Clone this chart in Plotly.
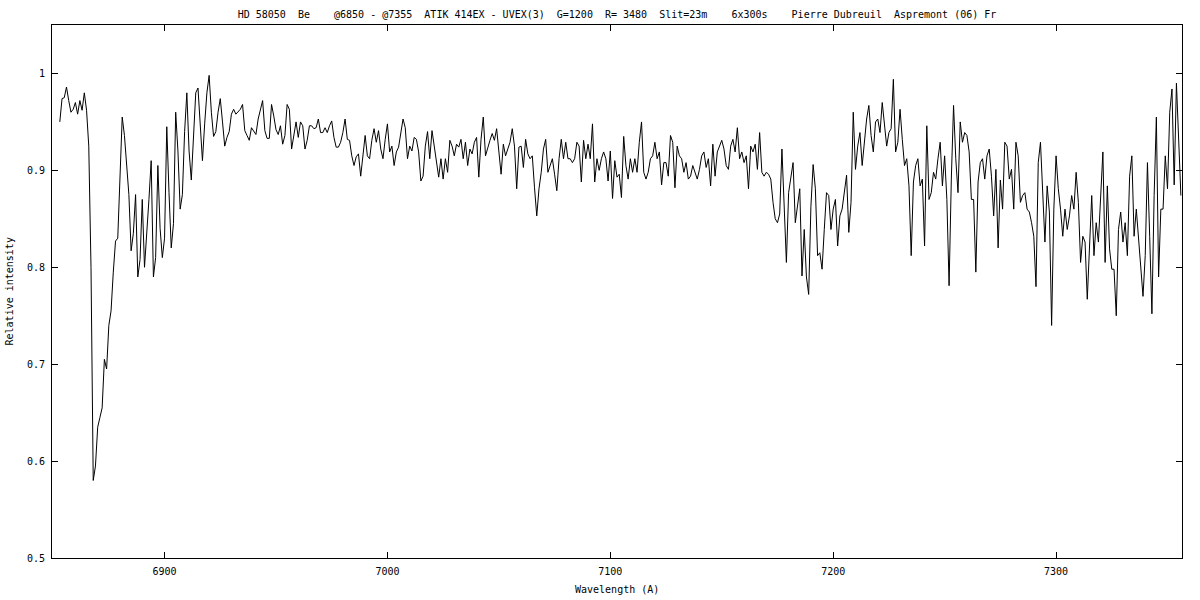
import plotly.graph_objects as go

# Spectrum HD 58050 (Be star), relative intensity sampled every 1 Angstrom
step_angstrom = 1.0

flux_6853 = [0.950, 0.974, 0.975, 0.986, 0.972, 0.960, 0.963,
             0.970, 0.958, 0.972, 0.962, 0.980, 0.962, 0.925, 0.800, 0.580, 0.595,
             0.635, 0.645, 0.655, 0.705, 0.695, 0.740, 0.755, 0.795, 0.827, 0.830,
             0.890, 0.955, 0.936, 0.900, 0.875, 0.817, 0.835, 0.875, 0.790, 0.808,
             0.870, 0.800, 0.830, 0.870, 0.910, 0.790, 0.810, 0.905, 0.840, 0.810]

flux_6900 = [0.830, 0.945, 0.877, 0.820, 0.845, 0.960, 0.920, 0.860, 0.875, 0.940,
             0.980, 0.920, 0.890, 0.935, 0.980, 0.985, 0.940, 0.910, 0.948, 0.980,
             0.998, 0.960, 0.935, 0.940, 0.960, 0.974, 0.950, 0.925, 0.934, 0.940,
             0.958, 0.963, 0.958, 0.960, 0.963, 0.968, 0.941, 0.936, 0.931, 0.944,
             0.941, 0.937, 0.953, 0.963, 0.972, 0.941, 0.933, 0.933, 0.968, 0.956,
             0.942, 0.937, 0.946, 0.927, 0.936, 0.968, 0.963, 0.922, 0.936, 0.950,
             0.934, 0.950, 0.946, 0.922, 0.931, 0.946, 0.946, 0.943, 0.944, 0.953,
             0.939, 0.939, 0.944, 0.939, 0.946, 0.951, 0.934, 0.924, 0.924, 0.929,
             0.939, 0.953, 0.932, 0.931, 0.915, 0.905, 0.914, 0.917, 0.894, 0.917,
             0.936, 0.915, 0.912, 0.931, 0.943, 0.929, 0.941, 0.922, 0.912, 0.932]

flux_7000 = [0.948, 0.919, 0.925, 0.905, 0.919, 0.924, 0.939, 0.953, 0.944, 0.912,
             0.925, 0.920, 0.934, 0.932, 0.919, 0.889, 0.894, 0.925, 0.940, 0.912,
             0.941, 0.925, 0.908, 0.893, 0.912, 0.891, 0.912, 0.898, 0.931, 0.925,
             0.915, 0.927, 0.924, 0.932, 0.912, 0.929, 0.905, 0.922, 0.917, 0.929,
             0.934, 0.893, 0.932, 0.955, 0.915, 0.924, 0.931, 0.938, 0.931, 0.943,
             0.922, 0.896, 0.927, 0.915, 0.922, 0.929, 0.943, 0.925, 0.881, 0.924,
             0.925, 0.903, 0.932, 0.917, 0.912, 0.915, 0.882, 0.853, 0.881, 0.898,
             0.922, 0.932, 0.898, 0.905, 0.912, 0.896, 0.879, 0.912, 0.932, 0.912,
             0.929, 0.912, 0.912, 0.908, 0.912, 0.929, 0.925, 0.888, 0.931, 0.912,
             0.927, 0.912, 0.948, 0.888, 0.912, 0.900, 0.912, 0.919, 0.912, 0.889]

flux_7100 = [0.920, 0.871, 0.910, 0.893, 0.896, 0.872, 0.935, 0.905, 0.891, 0.912,
             0.898, 0.912, 0.898, 0.929, 0.950, 0.898, 0.891, 0.898, 0.912, 0.915,
             0.929, 0.912, 0.919, 0.885, 0.908, 0.908, 0.894, 0.936, 0.929, 0.882,
             0.925, 0.915, 0.912, 0.898, 0.908, 0.891, 0.894, 0.905, 0.898, 0.891,
             0.901, 0.915, 0.919, 0.903, 0.912, 0.884, 0.927, 0.894, 0.919, 0.925,
             0.931, 0.922, 0.905, 0.901, 0.925, 0.932, 0.919, 0.944, 0.912, 0.919,
             0.908, 0.915, 0.881, 0.925, 0.919, 0.927, 0.901, 0.939, 0.898, 0.894,
             0.898, 0.896, 0.891, 0.867, 0.850, 0.846, 0.855, 0.922, 0.870, 0.805,
             0.877, 0.894, 0.908, 0.846, 0.863, 0.881, 0.791, 0.839, 0.790, 0.772,
             0.863, 0.906, 0.881, 0.812, 0.815, 0.798, 0.839, 0.877, 0.874, 0.839]

flux_7200 = [0.860, 0.870, 0.822, 0.853, 0.860, 0.881, 0.895, 0.836, 0.867, 0.960,
             0.901, 0.925, 0.939, 0.905, 0.932, 0.953, 0.967, 0.936, 0.919, 0.950,
             0.953, 0.939, 0.970, 0.944, 0.925, 0.939, 0.943, 0.994, 0.919, 0.929,
             0.963, 0.932, 0.905, 0.912, 0.884, 0.812, 0.888, 0.905, 0.912, 0.884,
             0.891, 0.822, 0.946, 0.870, 0.877, 0.898, 0.891, 0.912, 0.929, 0.884,
             0.915, 0.870, 0.781, 0.891, 0.967, 0.912, 0.877, 0.950, 0.929, 0.939,
             0.936, 0.919, 0.870, 0.870, 0.795, 0.888, 0.908, 0.912, 0.891, 0.915,
             0.922, 0.894, 0.853, 0.901, 0.820, 0.890, 0.860, 0.929, 0.925, 0.891,
             0.901, 0.860, 0.929, 0.915, 0.867, 0.874, 0.877, 0.860, 0.857, 0.846,
             0.832, 0.780, 0.908, 0.929, 0.874, 0.826, 0.884, 0.857, 0.740, 0.860]

flux_7300 = [0.915, 0.881, 0.860, 0.832, 0.860, 0.839, 0.853, 0.874, 0.860, 0.898,
             0.867, 0.805, 0.832, 0.826, 0.767, 0.826, 0.874, 0.812, 0.846, 0.826,
             0.874, 0.919, 0.805, 0.884, 0.819, 0.798, 0.798, 0.750, 0.839, 0.857,
             0.826, 0.846, 0.812, 0.894, 0.915, 0.832, 0.860, 0.829, 0.791, 0.770,
             0.812, 0.908, 0.832, 0.752, 0.874, 0.955, 0.790, 0.860, 0.860, 0.915,
             0.881, 0.960, 0.984, 0.885, 0.990, 0.936, 0.874]

segments = [(6853.0, flux_6853), (6900.0, flux_6900), (7000.0, flux_7000),
            (7100.0, flux_7100), (7200.0, flux_7200), (7300.0, flux_7300)]

x_ticks = [6900, 7000, 7100, 7200, 7300]
y_ticks = [0.5, 0.6, 0.7, 0.8, 0.9, 1.0]
y_tick_text = ["0.5", "0.6", "0.7", "0.8", "0.9", "1"]

title_text = ("HD 58050  Be    @6850 - @7355  ATIK 414EX - UVEX(3)  G=1200  R= 3480  "
              "Slit=23m    6x300s    Pierre Dubreuil  Aspremont (06) Fr")
x_label = "Wavelength (A)"
y_label = "Relative intensity"

wavelength = []
intensity = []
for start, vals in segments:
    for i, v in enumerate(vals):
        wavelength.append(start + i * step_angstrom)
        intensity.append(v)


def nb(s):
    # keep runs of spaces visible
    return s.replace(" ", "\u00a0")


FONT = "DejaVu Sans Mono, monospace"
FIG_W, FIG_H = 1200, 600

fig = go.Figure()
fig.add_trace(go.Scatter(x=wavelength, y=intensity, mode="lines",
                         line=dict(color="black", width=1),
                         hoverinfo="x+y", showlegend=False))

axis_common = dict(showline=True, linecolor="black", linewidth=1, mirror="ticks",
                   ticks="inside", ticklen=6, tickcolor="black", tickwidth=1,
                   showgrid=False, zeroline=False,
                   tickfont=dict(family=FONT, size=10, color="black"))

fig.update_xaxes(range=[6849.5, 7356.5], tickvals=x_ticks,
                 ticktext=[str(t) for t in x_ticks], ticklabelstandoff=4,
                 **axis_common)
fig.update_yaxes(range=[0.5, 1.05], tickvals=y_ticks, ticktext=y_tick_text,
                 ticklabelstandoff=4, **axis_common)

fig.update_layout(
    width=FIG_W, height=FIG_H,
    margin=dict(l=52, r=18, t=25, b=42),
    plot_bgcolor="white", paper_bgcolor="white",
    font=dict(family=FONT, size=10, color="black"),
    title=dict(text=nb(title_text), x=0.5, xref="paper", xanchor="center",
               y=1 - 14 / FIG_H, yref="container", yanchor="middle",
               font=dict(family=FONT, size=10, color="black")),
    annotations=[
        dict(text=nb(x_label), x=0.5, y=-0.06, xref="paper", yref="paper",
             xanchor="center", yanchor="middle", showarrow=False,
             font=dict(family=FONT, size=10, color="black")),
        dict(text=nb(y_label), x=-0.0372, y=0.5, xref="paper", yref="paper",
             xanchor="center", yanchor="middle", textangle=-90, showarrow=False,
             font=dict(family=FONT, size=10, color="black")),
    ],
    showlegend=False,
)

# remove the default 8px page margin so the figure fills the 1200x600 window
fig.write_html("out.html",
               config={"displayModeBar": False},
               post_script="document.body.style.margin='0px';"
                           "document.body.style.overflow='hidden';")
